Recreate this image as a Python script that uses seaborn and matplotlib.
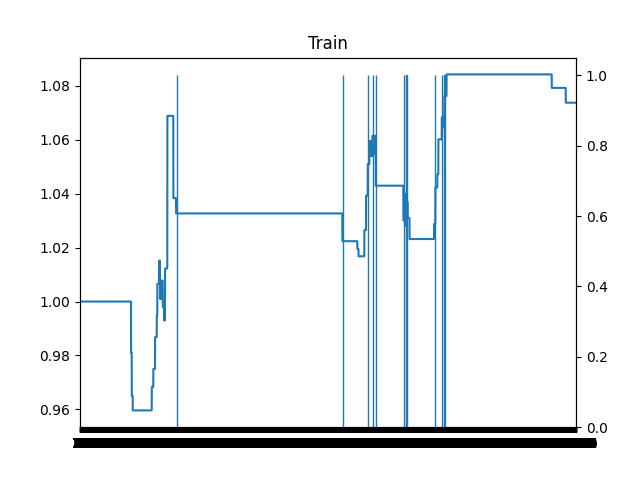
import numpy as np
import pandas as pd
import matplotlib
matplotlib.use("Agg")
import matplotlib.pyplot as plt
import seaborn as sns

N_STEPS = 12000

# Equity curve: level values and the step at which each level starts
equity_levels = [1.000, 0.981, 0.965, 0.9596,
                 0.9683, 0.975, 0.9868, 0.9948, 1.0066, 1.0152, 1.001, 1.0078,
                 0.998, 0.993, 1.0122, 1.0125,
                 1.0689, 1.0384, 1.0327, 1.0224, 1.0195, 1.0168,
                 1.0265, 1.0393, 1.051, 1.0596, 1.054, 1.0615, 1.0548, 1.0615,
                 1.043, 1.030, 1.040, 1.028, 1.037, 1.031, 1.0232,
                 1.0288, 1.0423, 1.0473, 1.0602, 1.0683, 1.0646, 1.0763,
                 1.0843, 1.0793, 1.0738]
equity_starts = [0, 1234, 1251, 1275,
                 1735, 1773, 1815, 1856, 1870, 1911, 1935, 1977,
                 2001, 2032, 2056, 2098,
                 2112, 2257, 2323, 6346, 6709, 6738,
                 6878, 6919, 6960, 7000, 7033, 7072, 7096, 7120,
                 7154, 7822, 7846, 7870, 7899, 7928, 7972,
                 8565, 8596, 8644, 8669, 8751, 8782, 8814,
                 8867, 11412, 11751]

# Steps where a trade signal occurs (bar height 1)
trade_steps = [2342, 6358, 6963, 7084, 7157, 7834, 7899, 8584, 8746, 8818]
trade_values = [1.0] * len(trade_steps)

runs = np.diff(equity_starts + [N_STEPS])
equity = np.repeat(equity_levels, runs)
steps = np.arange(N_STEPS)

df = pd.DataFrame({"step": steps, "equity": equity})
trades = pd.DataFrame({"step": trade_steps, "signal": trade_values})

fig, ax = plt.subplots(figsize=(6.4, 4.8), dpi=100)
sns.lineplot(data=df, x="step", y="equity", ax=ax, color="#1f77b4",
             linewidth=1.5, estimator=None)
ax.set_title("Train")

ax2 = ax.twinx()
sns.barplot(data=trades, x="step", y="signal", order=list(steps), ax=ax2,
            color="#1f77b4", saturation=1, errorbar=None,
            edgecolor="#1f77b4", linewidth=1.0)
ax2.set_xlabel("")
ax2.set_ylabel("")
ax.set_xlabel("")
ax.set_ylabel("")

fig.savefig("out.png", dpi=100)
